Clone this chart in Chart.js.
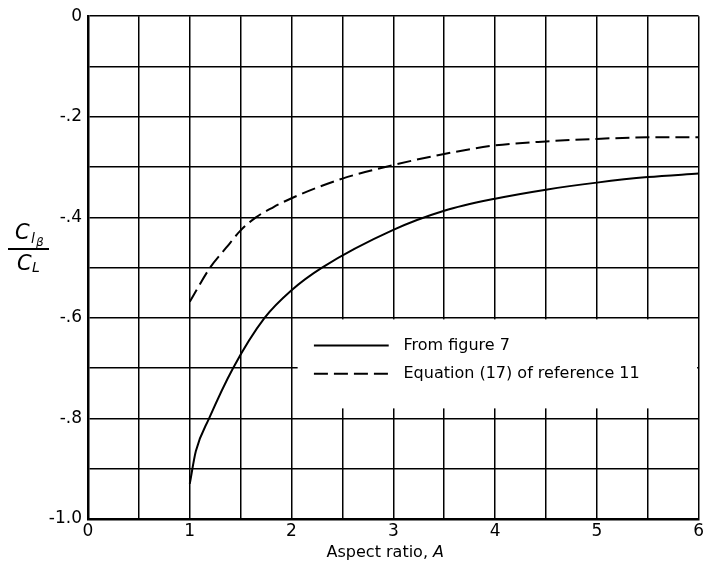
<!DOCTYPE html>
<html>
<head>
<meta charset="utf-8">
<script src="https://cdn.jsdelivr.net/npm/chart.js@4"></script>
<style>
  html, body { margin: 0; padding: 0; background: #fff; }
</style>
</head>
<body>
<canvas id="chart" width="706" height="567"></canvas>
<script>
// values
const solidX  = [1.0, 1.06, 1.19, 1.425, 1.735, 2.0, 2.3, 3.0, 3.5, 4.0, 4.5, 5.0, 5.5, 6.0];
const solidY  = [-0.93, -0.865, -0.80, -0.70, -0.60, -0.545, -0.50, -0.425, -0.387, -0.363, -0.345, -0.331, -0.32, -0.313];
const dashedX = [1.0, 1.2, 1.36, 1.5, 1.65, 1.82, 2.0, 2.5, 3.0, 3.5, 4.0, 4.5, 5.0, 5.5, 6.0];
const dashedY = [-0.568, -0.50, -0.46, -0.426, -0.40, -0.38, -0.362, -0.323, -0.296, -0.274, -0.257, -0.249, -0.244, -0.241, -0.241];
const seriesNames = ['From figure 7', 'Equation (17) of reference 11'];
const xTitle = 'Aspect ratio, ';
const xTitleSymbol = 'A';

const FONT = 'DejaVu Sans';

function toPoints(xs, ys) {
    return xs.map((x, i) => ({ x: x, y: ys[i] }));
}

function yLabel(v) {
    const r = Math.round(v * 10);
    if (r % 2 !== 0) return '';
    if (r === 0) return '0';
    if (r === -10) return '-1.0';
    return '-.' + Math.abs(r);
}

const overlay = {
    id: 'overlay',
    beforeDatasetsDraw(chart) {
        // legend box blanks out part of the grid
        const { ctx, scales: { x, y } } = chart;
        const left = x.getPixelForValue(2.06);
        const right = x.getPixelForValue(6) - 1.5;
        const top = y.getPixelForValue(-0.6) + 1.5;
        const bottom = y.getPixelForValue(-0.78);
        ctx.save();
        ctx.fillStyle = '#fff';
        ctx.fillRect(left, top, right - left, bottom - top);
        ctx.restore();
    },
    afterDraw(chart) {
        const { ctx, scales: { x, y } } = chart;
        ctx.save();
        ctx.fillStyle = '#000';
        ctx.strokeStyle = '#000';

        // legend
        const lx0 = x.getPixelForValue(2.22), lx1 = x.getPixelForValue(2.955);
        const tx = x.getPixelForValue(3.1);
        const rows = [y.getPixelForValue(-0.655), y.getPixelForValue(-0.711)];
        ctx.font = '16px ' + FONT;
        ctx.textBaseline = 'middle';
        ctx.textAlign = 'left';
        rows.forEach((ry, i) => {
            ctx.lineWidth = 2;
            ctx.setLineDash(i === 0 ? [] : [14, 6]);
            ctx.beginPath();
            ctx.moveTo(lx0, ry);
            ctx.lineTo(lx1, ry);
            ctx.stroke();
            ctx.setLineDash([]);
            ctx.fillText(seriesNames[i], tx, ry);
        });

        // x axis title with italic symbol
        ctx.font = '16px ' + FONT;
        const w1 = ctx.measureText(xTitle).width;
        ctx.font = 'italic 16px ' + FONT;
        const w2 = ctx.measureText(xTitleSymbol).width;
        const cx = (x.left + x.right) / 2 - 8;
        const bx = cx - (w1 + w2) / 2;
        ctx.textBaseline = 'alphabetic';
        ctx.font = '16px ' + FONT;
        ctx.fillText(xTitle, bx, 557);
        ctx.font = 'italic 16px ' + FONT;
        ctx.fillText(xTitleSymbol, bx + w1, 557);

        // y axis title: C_l_beta over C_L
        const midY = y.getPixelForValue(-0.458);
        ctx.font = 'italic 21px ' + FONT;
        ctx.fillText('C', 15, midY - 7);
        ctx.font = 'italic 14px ' + FONT;
        ctx.fillText('l', 31, midY - 3);
        ctx.font = 'italic 12px ' + FONT;
        ctx.fillText('\u03b2', 36, midY);
        ctx.lineWidth = 2;
        ctx.beginPath();
        ctx.moveTo(8, midY + 2.5);
        ctx.lineTo(49, midY + 2.5);
        ctx.stroke();
        ctx.font = 'italic 21px ' + FONT;
        ctx.fillText('C', 17, midY + 24);
        ctx.font = 'italic 14px ' + FONT;
        ctx.fillText('L', 32, midY + 26);
        ctx.restore();
    }
};

const ctx = document.getElementById('chart').getContext('2d');
new Chart(ctx, {
    type: 'scatter',
    data: {
        datasets: [{
            label: seriesNames[0],
            data: toPoints(solidX, solidY),
            showLine: true,
            borderColor: '#000',
            borderWidth: 2,
            pointRadius: 0,
            cubicInterpolationMode: 'monotone'
        }, {
            label: seriesNames[1],
            data: toPoints(dashedX, dashedY),
            showLine: true,
            borderColor: '#000',
            borderWidth: 2,
            borderDash: [14, 6],
            pointRadius: 0,
            cubicInterpolationMode: 'monotone'
        }]
    },
    options: {
        responsive: false,
        animation: false,
        layout: { padding: { top: 14, right: 5 } },
        plugins: { legend: { display: false }, tooltip: { enabled: false } },
        scales: {
            x: {
                type: 'linear', min: 0, max: 6,
                ticks: {
                    stepSize: 0.5, color: '#000', padding: 2,
                    font: { family: FONT, size: 17 },
                    maxRotation: 0,
                    callback: v => Number.isInteger(v) ? String(v) : ''
                },
                grid: { color: '#000', lineWidth: 1.5, drawTicks: false },
                border: { color: '#000', width: 2.5 },
                afterFit: s => { s.height = 48; }
            },
            y: {
                type: 'linear', min: -1, max: 0,
                ticks: {
                    stepSize: 0.1, color: '#000', padding: 6,
                    font: { family: FONT, size: 17 },
                    callback: yLabel
                },
                grid: { color: '#000', lineWidth: 1.5, drawTicks: false },
                border: { color: '#000', width: 2.5 },
                afterFit: s => { s.width = 88; }
            }
        }
    },
    plugins: [overlay]
});
</script>
</body>
</html>
